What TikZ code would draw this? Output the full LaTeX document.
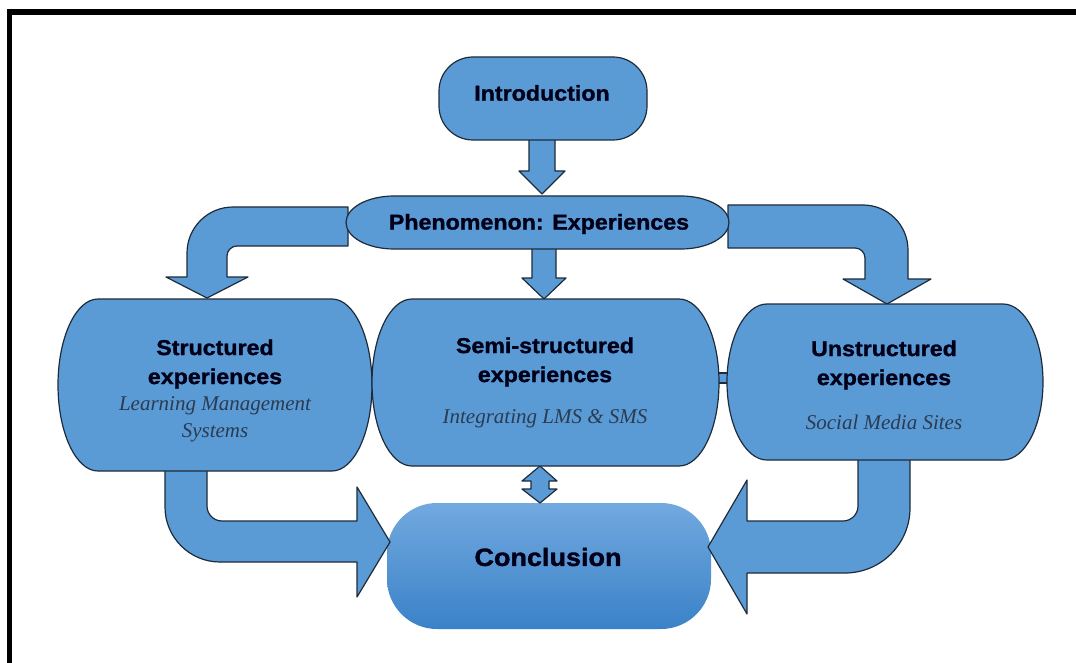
\documentclass[tikz,border=0pt]{standalone}
\usepackage{fontspec}
\setmainfont{Liberation Serif}
\newfontfamily\headfont[FakeStretch=1.08,BoldFeatures={FakeBold=1.3}]{Liberation Sans}
\newfontfamily\notefont{Liberation Serif}

\definecolor{boxblue}{HTML}{5B9BD5}
\definecolor{edgeline}{HTML}{1E2B3A}
\definecolor{notegray}{HTML}{2A3B52}
\definecolor{concltop}{HTML}{72A9DF}
\definecolor{conclbot}{HTML}{3A82C8}

\tikzset{
  shapefill/.style={fill=boxblue, draw=edgeline, line width=1.2pt, line join=round},
  headtext/.style={font=\headfont\bfseries\fontsize{21.5}{29}\selectfont, align=center, text=black!90!blue, inner sep=0pt},
  notetext/.style={font=\notefont\itshape\fontsize{21}{27}\selectfont, align=center, text=notegray, inner sep=0pt},
}

\begin{document}
\begin{tikzpicture}[x=1pt,y=-1pt]
\useasboundingbox (0,0) rectangle (1076,663);
\fill[white] (0,0) rectangle (1076,663);

% outer frame, running past the page on the right and bottom
\draw[line width=5.8pt, black] (9.5,12.3) -- (1100,12.3);
\draw[line width=5.8pt, black] (9.5,9.4) -- (9.5,700);

% conclusion box (shaded, no outline)
\shade[top color=concltop, bottom color=conclbot, rounded corners=50pt]
  (387,503) rectangle (711,629);

% straight arrow: introduction -> phenomenon
\draw[shapefill] (529,139) -- (555,139) -- (555,171) -- (565,171) -- (542,194)
  -- (519,171) -- (529,171) -- cycle;

% straight arrow: phenomenon -> semi-structured
\draw[shapefill] (532,248) -- (556,248) -- (556,278) -- (566,278) -- (544,299)
  -- (522,278) -- (532,278) -- cycle;

% bent arrow: phenomenon -> structured
\draw[shapefill] (348,207) -- (233,207)
  arc[start angle=90,end angle=180,radius=46pt] -- (187,277) -- (166,277)
  -- (207,298) -- (248,277) -- (227,277) -- (227,256)
  arc[start angle=180,end angle=90,radius=10pt] -- (348,246) -- cycle;

% bent arrow: phenomenon -> unstructured
\draw[shapefill] (728,205) -- (863,205)
  arc[start angle=90,end angle=0,radius=45pt] -- (908,279) -- (931,279)
  -- (887,304) -- (843,279) -- (865,279) -- (865,258)
  arc[start angle=0,end angle=90,radius=10pt] -- (728,248) -- cycle;

% bent arrow: structured -> conclusion
\draw[shapefill] (165,469) -- (165,507)
  arc[start angle=180,end angle=270,radius=55pt] -- (357,562) -- (357,597)
  -- (390,542) -- (357,487) -- (357,521) -- (222,521)
  arc[start angle=270,end angle=180,radius=15pt] -- (207,469) -- cycle;

% bent arrow: unstructured -> conclusion
\draw[shapefill] (910,458) -- (910,508)
  arc[start angle=0,end angle=-90,radius=65pt] -- (747,573) -- (747,614)
  -- (708,547) -- (747,480) -- (747,521) -- (843,521)
  arc[start angle=270,end angle=360,radius=15pt] -- (858,458) -- cycle;

% double arrow between semi-structured and conclusion
\draw[shapefill] (540,466) -- (557,481) -- (549,481) -- (549,489) -- (557,489)
  -- (540,503) -- (522,489) -- (531,489) -- (531,481) -- (522,481) -- cycle;

% link strip between semi-structured and unstructured
\draw[shapefill] (714,373) rectangle (732,383);

% introduction
\draw[shapefill, rounded corners=34pt] (439,57) rectangle (647,140);

% phenomenon
\draw[shapefill] (394,196) -- (681,196)
  arc[start angle=90,end angle=-90,x radius=48pt,y radius=26.5pt] -- (394,249)
  arc[start angle=270,end angle=90,x radius=48pt,y radius=26.5pt] -- cycle;

% structured
\draw[shapefill] (98,299) -- (332,299)
  arc[start angle=90,end angle=-90,x radius=40pt,y radius=86pt] -- (98,471)
  arc[start angle=270,end angle=90,x radius=40pt,y radius=86pt] -- cycle;

% semi-structured
\draw[shapefill] (412,299) -- (679,299)
  arc[start angle=90,end angle=-90,x radius=40pt,y radius=83.5pt] -- (412,466)
  arc[start angle=270,end angle=90,x radius=40pt,y radius=83.5pt] -- cycle;

% unstructured
\draw[shapefill] (767,304) -- (1003,304)
  arc[start angle=90,end angle=-90,x radius=40pt,y radius=78pt] -- (767,460)
  arc[start angle=270,end angle=90,x radius=40pt,y radius=78pt] -- cycle;

% labels
\node[headtext] (intro) at (542,93) {Introduction};
\node[headtext] (phen) at (539,224) {Phenomenon: Experiences};
\node[headtext] (struct) at (215,364) {Structured\\experiences};
\node[notetext] (lms) at (215,419) {Learning Management\\Systems};
\node[headtext] (semi) at (545,362) {Semi-structured\\experiences};
\node[notetext] (integ) at (545,419) {Integrating LMS \& SMS};
\node[headtext] (unstruct) at (884,365) {Unstructured\\experiences};
\node[notetext] (social) at (884,422) {Social Media Sites};
\node[headtext, font=\headfont\bfseries\fontsize{25}{30}\selectfont] (concl) at (548,557) {Conclusion};
\end{tikzpicture}
\end{document}
